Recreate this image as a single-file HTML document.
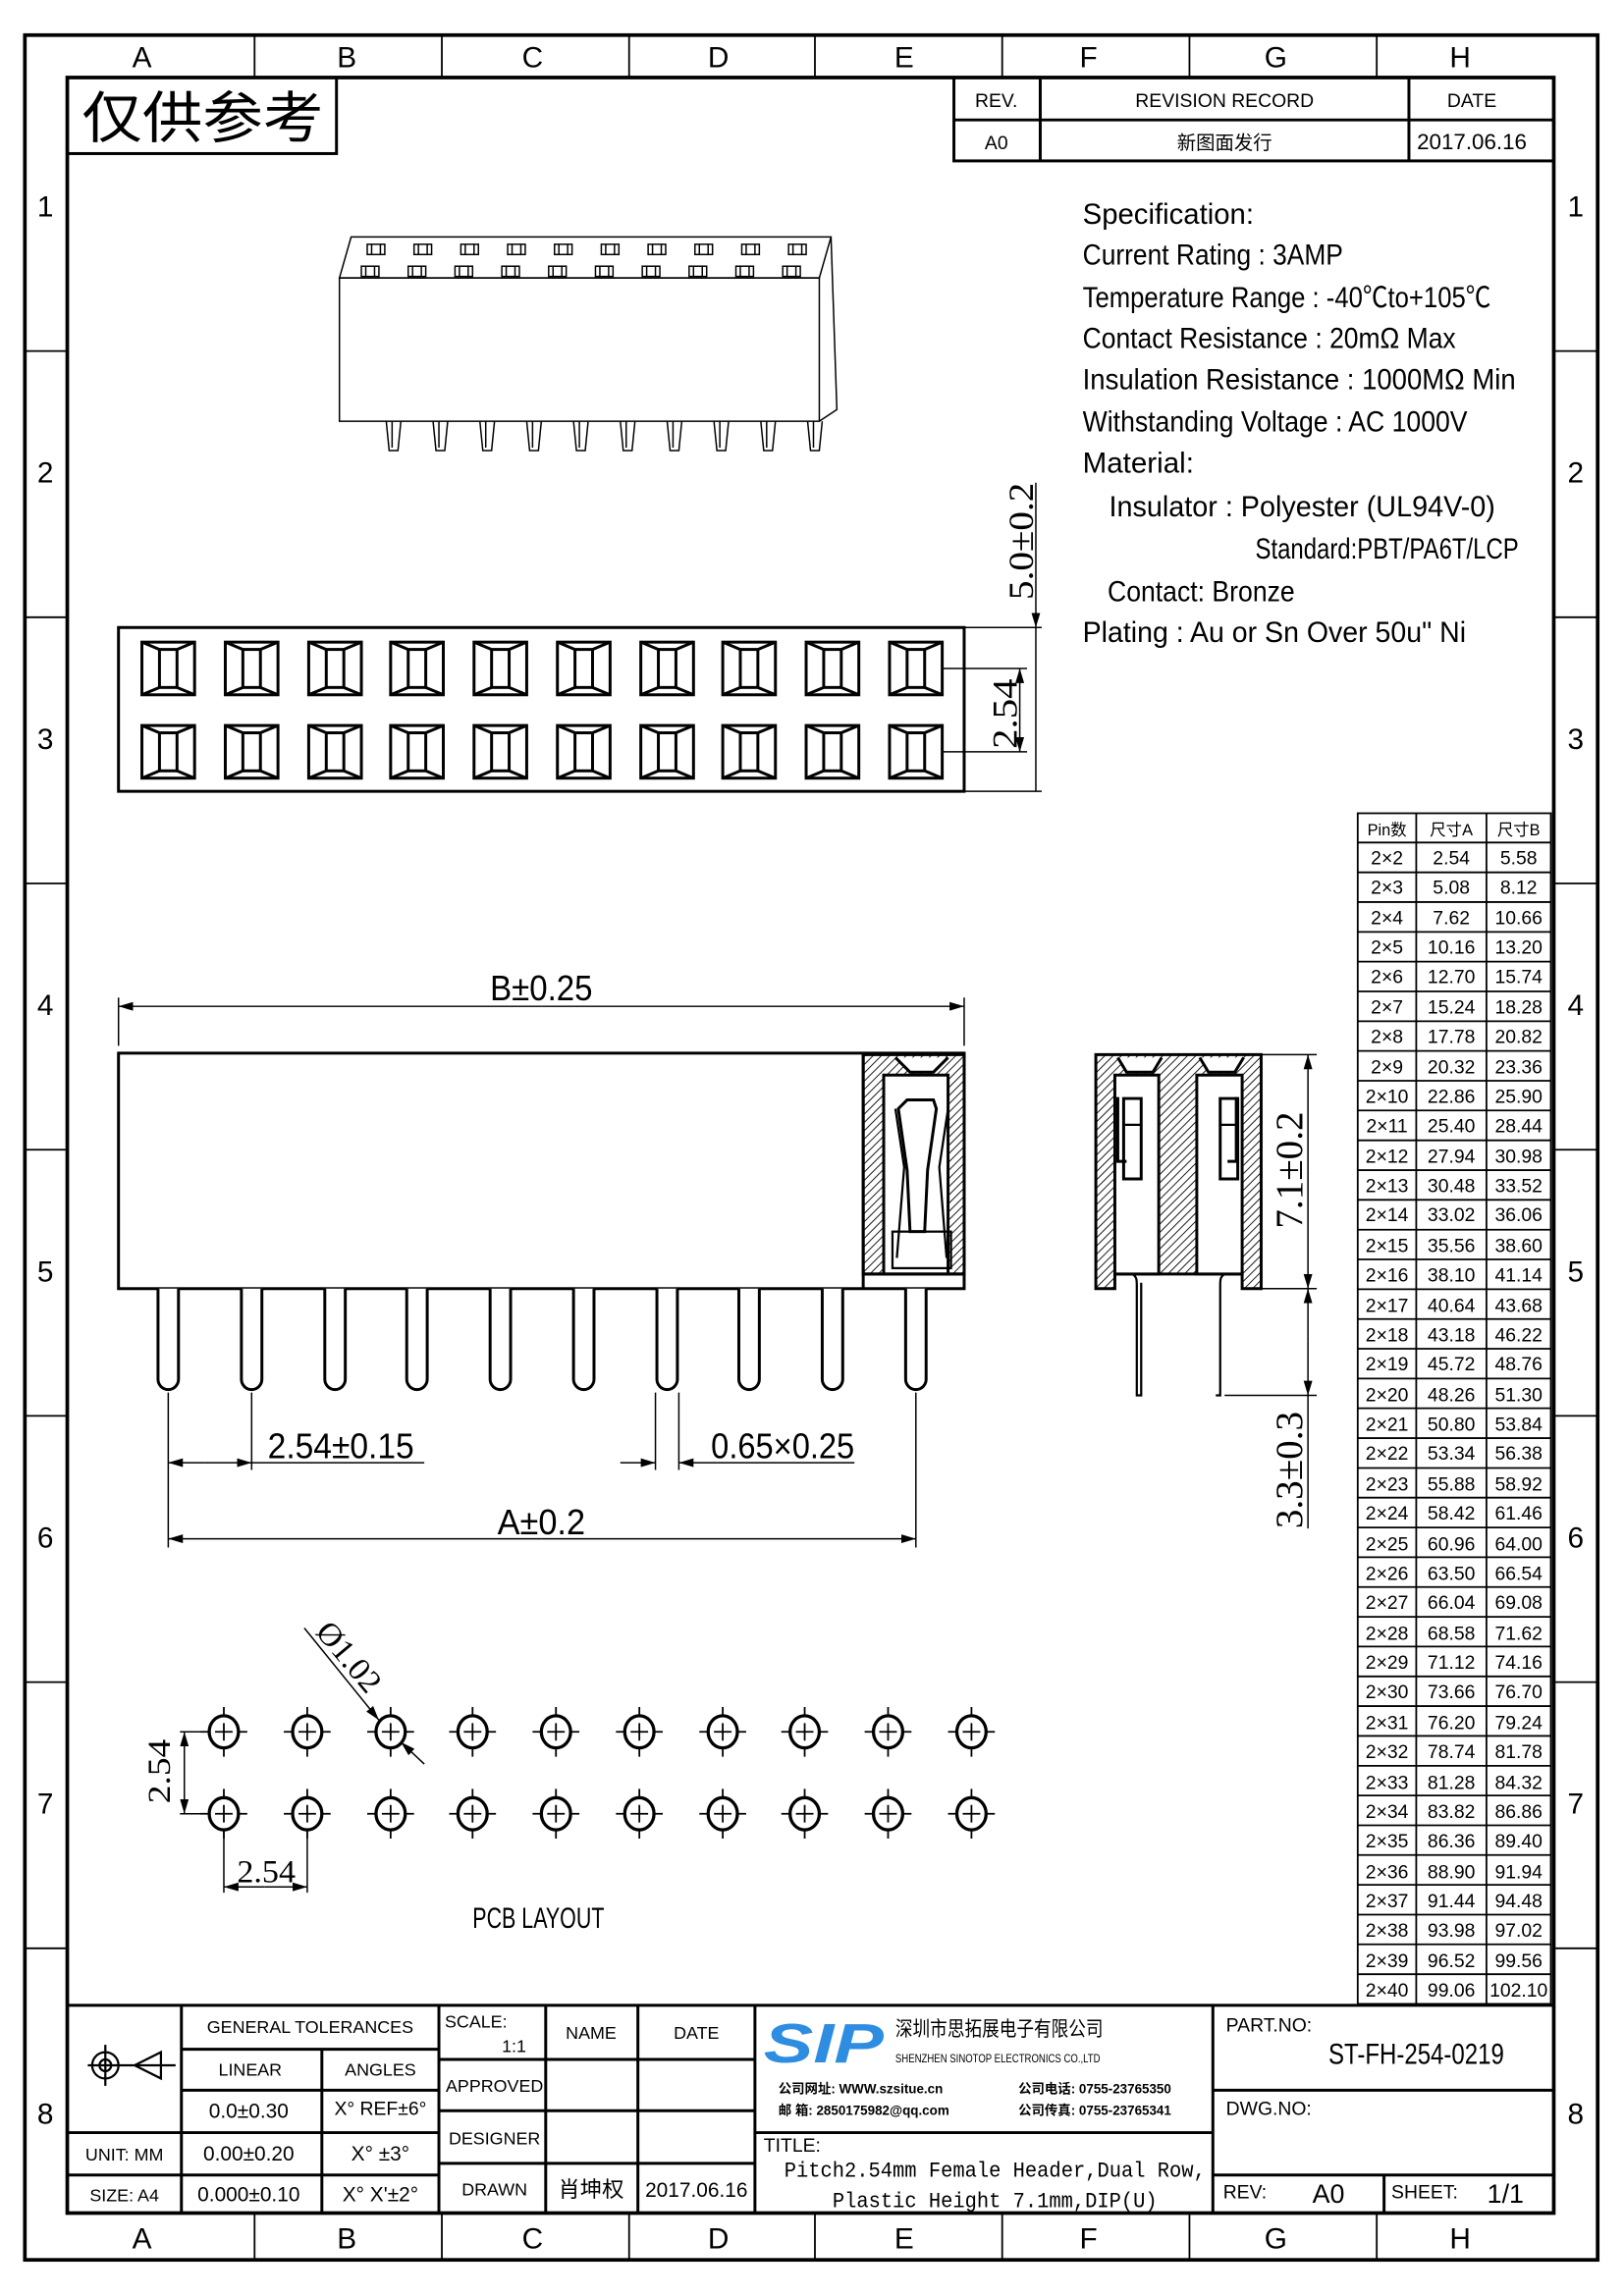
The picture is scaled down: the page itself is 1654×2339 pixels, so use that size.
<!DOCTYPE html>
<html><head><meta charset="utf-8"><style>
html,body{margin:0;padding:0;background:#fff}
svg{display:block}
text{font-family:"Liberation Sans Narrow","Liberation Sans","Noto Sans CJK SC",sans-serif;fill:#000}
.s{font-family:"Liberation Serif","Noto Serif CJK SC",serif}
</style></head><body>
<svg width="1654" height="2339" viewBox="0 0 1110 1569.7" xmlns="http://www.w3.org/2000/svg">
<defs>
<g id="sq" fill="none" stroke="#000" stroke-width="2"><rect x="-18" y="-18" width="36" height="36"/><rect x="-6" y="-13" width="12" height="26"/><path d="M-18 -18L-6 -13M18 -18L6 -13M-18 18L-6 13M18 18L6 13"/></g>
<g id="hole" fill="none" stroke="#000"><ellipse rx="10" ry="11" stroke-width="2.2"/><path d="M-6 0H6M0 -6V6M-16 0H-10M10 0H16M0 -17V-11M0 11V17" stroke-width="1.2"/></g>
<g id="pin"><path d="M-7 0V62A7 7 0 0 0 7 62V0" fill="#fff" stroke="#000" stroke-width="2"/></g>
<g id="hpin" fill="none" stroke="#000" stroke-width="1"><rect x="-6" y="-3" width="12" height="7"/><path d="M-3 -3V4M3 -3V4"/></g>
<pattern id="hat" patternUnits="userSpaceOnUse" width="4" height="4" patternTransform="rotate(45)"><rect width="4" height="4" fill="#fff"/><line x1="0" y1="0" x2="0" y2="4" stroke="#000" stroke-width="1.2"/></pattern>
<marker id="ar" markerWidth="10" markerHeight="6" refX="10" refY="3" orient="auto" markerUnits="userSpaceOnUse"><path d="M0 0L10 3L0 6z" fill="#000"/></marker>
</defs>
<rect width="1110" height="1570" fill="#fff"/>
<!-- frames -->
<rect x="17" y="24" width="1075" height="1521" fill="none" stroke="#000" stroke-width="2.5"/>
<rect x="46" y="53" width="1016" height="1460" fill="none" stroke="#000" stroke-width="2.5"/>
<g stroke="#000" stroke-width="1.2">
<path d="M174 24V53M302 24V53M430 24V53M557 24V53M685 24V53M813 24V53M941 24V53"/>
<path d="M174 1513V1545M302 1513V1545M430 1513V1545M557 1513V1545M685 1513V1545M813 1513V1545M941 1513V1545"/>
<path d="M17 240H46M17 422H46M17 604H46M17 786H46M17 968H46M17 1150H46M17 1332H46"/>
<path d="M1062 240H1092M1062 422H1092M1062 604H1092M1062 786H1092M1062 968H1092M1062 1150H1092M1062 1332H1092"/>
</g>
<g font-size="20" text-anchor="middle">
<text x="97" y="46">A</text><text x="237" y="46">B</text><text x="364" y="46">C</text><text x="491" y="46">D</text><text x="618" y="46">E</text><text x="744" y="46">F</text><text x="872" y="46">G</text><text x="998" y="46">H</text>
<text x="97" y="1537">A</text><text x="237" y="1537">B</text><text x="364" y="1537">C</text><text x="491" y="1537">D</text><text x="618" y="1537">E</text><text x="744" y="1537">F</text><text x="872" y="1537">G</text><text x="998" y="1537">H</text>
<text x="31" y="148">1</text><text x="31" y="330">2</text><text x="31" y="512">3</text><text x="31" y="694">4</text><text x="31" y="876">5</text><text x="31" y="1058">6</text><text x="31" y="1240">7</text><text x="31" y="1452">8</text>
<text x="1077" y="148">1</text><text x="1077" y="330">2</text><text x="1077" y="512">3</text><text x="1077" y="694">4</text><text x="1077" y="876">5</text><text x="1077" y="1058">6</text><text x="1077" y="1240">7</text><text x="1077" y="1452">8</text>
</g>
<!-- reference stamp -->
<rect x="46" y="53" width="184" height="52" fill="none" stroke="#000" stroke-width="2"/>
<text x="56" y="94" font-size="38" textLength="165" lengthAdjust="spacingAndGlyphs">仅供参考</text>
<!-- revision -->
<g fill="none" stroke="#000" stroke-width="2"><rect x="652" y="53" width="410" height="57"/><path d="M652 82H1062M711 53V110M963 53V110"/></g>
<g font-size="13" text-anchor="middle"><text x="681" y="73">REV.</text><text x="837" y="73">REVISION RECORD</text><text x="1006" y="73">DATE</text>
<text x="681" y="102">A0</text><text x="837" y="102">新图面发行</text><text x="1006" y="102" font-size="15">2017.06.16</text></g>
<!-- spec -->
<g font-size="20">
<text x="740" y="153" textLength="117" lengthAdjust="spacingAndGlyphs">Specification:</text>
<text x="740" y="181" textLength="178" lengthAdjust="spacingAndGlyphs">Current Rating : 3AMP</text>
<text x="740" y="210" textLength="279" lengthAdjust="spacingAndGlyphs">Temperature Range : -40℃to+105℃</text>
<text x="740" y="238" textLength="255" lengthAdjust="spacingAndGlyphs">Contact Resistance : 20mΩ Max</text>
<text x="740" y="266" textLength="296" lengthAdjust="spacingAndGlyphs">Insulation Resistance : 1000MΩ Min</text>
<text x="740" y="295" textLength="263" lengthAdjust="spacingAndGlyphs">Withstanding Voltage : AC 1000V</text>
<text x="740" y="323" textLength="76" lengthAdjust="spacingAndGlyphs">Material:</text>
<text x="758" y="353" textLength="264" lengthAdjust="spacingAndGlyphs">Insulator : Polyester (UL94V-0)</text>
<text x="858" y="382" textLength="180" lengthAdjust="spacingAndGlyphs">Standard:PBT/PA6T/LCP</text>
<text x="757" y="411" textLength="128" lengthAdjust="spacingAndGlyphs">Contact: Bronze</text>
<text x="740" y="439" textLength="262" lengthAdjust="spacingAndGlyphs">Plating : Au or Sn Over 50u" Ni</text>
</g>
<!-- 3D view -->
<g fill="none" stroke="#000" stroke-width="1">
<path d="M240 162H568L560 190H232Z"/><rect x="232" y="190" width="328" height="98"/><path d="M568 162L572 280L560 288"/>
<path d="M268 288v18M300 288v18M332 288v18M364 288v18M396 288v18M428 288v18M460 288v18M492 288v18M524 288v18M556 288v18"/>
<path d="M264 288l2 20h6l2-20M296 288l2 20h6l2-20M328 288l2 20h6l2-20M360 288l2 20h6l2-20M392 288l2 20h6l2-20M424 288l2 20h6l2-20M456 288l2 20h6l2-20M488 288l2 20h6l2-20M520 288l2 20h6l2-20M552 288l2 20h6l2-20"/>
</g>
<use href="#hpin" x="257" y="170"/><use href="#hpin" x="289" y="170"/><use href="#hpin" x="321" y="170"/><use href="#hpin" x="353" y="170"/><use href="#hpin" x="385" y="170"/><use href="#hpin" x="417" y="170"/><use href="#hpin" x="449" y="170"/><use href="#hpin" x="481" y="170"/><use href="#hpin" x="513" y="170"/><use href="#hpin" x="545" y="170"/>
<use href="#hpin" x="253" y="185"/><use href="#hpin" x="285" y="185"/><use href="#hpin" x="317" y="185"/><use href="#hpin" x="349" y="185"/><use href="#hpin" x="381" y="185"/><use href="#hpin" x="413" y="185"/><use href="#hpin" x="445" y="185"/><use href="#hpin" x="477" y="185"/><use href="#hpin" x="509" y="185"/><use href="#hpin" x="541" y="185"/>
<!-- top view -->
<rect x="81" y="429" width="578" height="112" fill="none" stroke="#000" stroke-width="2"/>
<g>
<use href="#sq" x="115" y="457"/><use href="#sq" x="172" y="457"/><use href="#sq" x="229" y="457"/><use href="#sq" x="285" y="457"/><use href="#sq" x="342" y="457"/><use href="#sq" x="399" y="457"/><use href="#sq" x="456" y="457"/><use href="#sq" x="512" y="457"/><use href="#sq" x="569" y="457"/><use href="#sq" x="626" y="457"/>
<use href="#sq" x="115" y="514"/><use href="#sq" x="172" y="514"/><use href="#sq" x="229" y="514"/><use href="#sq" x="285" y="514"/><use href="#sq" x="342" y="514"/><use href="#sq" x="399" y="514"/><use href="#sq" x="456" y="514"/><use href="#sq" x="512" y="514"/><use href="#sq" x="569" y="514"/><use href="#sq" x="626" y="514"/>
</g>
<g stroke="#000" stroke-width="1" fill="none">
<path d="M659 429H712M659 541H712M644 457H702M644 514H702"/>
<path d="M708 330V429" marker-end="url(#ar)"/><path d="M708 541V429"/>
<path d="M697 487V457" marker-end="url(#ar)"/><path d="M697 487V514" marker-end="url(#ar)"/>
</g>
<text class="s" font-size="24" transform="translate(706 410) rotate(-90)" textLength="80" lengthAdjust="spacingAndGlyphs">5.0±0.2</text>
<text class="s" font-size="24" transform="translate(695 512) rotate(-90)" textLength="48" lengthAdjust="spacingAndGlyphs">2.54</text>
<!-- front view -->
<g stroke="#000" fill="none">
<rect x="81" y="720" width="578" height="161" stroke-width="2"/>
<path d="M590 721H659V871H590Z" fill="url(#hat)" stroke-width="2"/>
<rect x="604" y="735" width="44" height="136" fill="#fff" stroke-width="2"/>
<path d="M590 721V881M590 871H659" stroke-width="2"/>
<path d="M612 723l10 10h16l10-10" stroke-width="2" fill="#fff"/>
<path d="M620 752h18l2 6-6 42 -2 42h-10l-2-42-6-42z" stroke-width="2"/>
<path d="M612 758l6 40-5 62M648 758l-6 40 5 62" stroke-width="1.5"/>
<rect x="610" y="842" width="40" height="25" stroke-width="1.5"/>
</g>
<use href="#pin" x="115" y="881"/><use href="#pin" x="172" y="881"/><use href="#pin" x="229" y="881"/><use href="#pin" x="285" y="881"/><use href="#pin" x="342" y="881"/><use href="#pin" x="399" y="881"/><use href="#pin" x="456" y="881"/><use href="#pin" x="512" y="881"/><use href="#pin" x="569" y="881"/><use href="#pin" x="626" y="881"/>
<g stroke="#000" stroke-width="1" fill="none">
<path d="M81 715V682M659 715V682"/>
<path d="M370 688H81" marker-end="url(#ar)"/><path d="M370 688H659" marker-end="url(#ar)"/>
<path d="M115 952V1058M172 952V1005M448 952V1005M464 952V1005M626 952V1058"/>
<path d="M140 1000H115" marker-end="url(#ar)"/><path d="M140 1000H172" marker-end="url(#ar)"/><path d="M172 1000H290"/>
<path d="M424 1000H448" marker-end="url(#ar)"/><path d="M490 1000H464" marker-end="url(#ar)"/><path d="M490 1000H584"/>
<path d="M370 1052H115" marker-end="url(#ar)"/><path d="M370 1052H626" marker-end="url(#ar)"/>
</g>
<g class="s" font-size="24" text-anchor="middle">
<text x="370" y="684" textLength="70" lengthAdjust="spacingAndGlyphs">B±0.25</text>
<text x="233" y="997" textLength="100" lengthAdjust="spacingAndGlyphs">2.54±0.15</text>
<text x="535" y="997" textLength="98" lengthAdjust="spacingAndGlyphs">0.65×0.25</text>
<text x="370" y="1049" textLength="60" lengthAdjust="spacingAndGlyphs">A±0.2</text>
</g>
<!-- side view -->
<g stroke="#000" fill="none" stroke-width="2">
<path d="M749 721H862V881H849V871H762V881H749Z" fill="url(#hat)"/>
<rect x="762" y="735" width="30" height="136" fill="#fff"/>
<rect x="818" y="735" width="31" height="136" fill="#fff"/>
<path d="M764 723l6 10h18l6-10M820 723l6 10h18l6-10" fill="#fff"/>
<path d="M768 751h12v55h-12zM834 751h12v55h-12z"/>
<path d="M769 769h11M834 769h12" stroke-width="1.5"/>
<path d="M764 750v44h6M845 750v44h-6"/>
<path d="M774 871c3 2 3 4 3 8V954h3V877M837 871c-3 2-3 4-3 8V954h-3" stroke-width="1.5"/>
</g>
<g stroke="#000" stroke-width="1" fill="none">
<path d="M862 721H900M862 881H900M837 954H900"/>
<path d="M894 800V721" marker-end="url(#ar)"/><path d="M894 800V881" marker-end="url(#ar)"/>
<path d="M894 917V881" marker-end="url(#ar)"/><path d="M894 917V954" marker-end="url(#ar)"/><path d="M894 954V1045"/>
</g>
<text class="s" font-size="26" transform="translate(890 840) rotate(-90)" textLength="80" lengthAdjust="spacingAndGlyphs">7.1±0.2</text>
<text class="s" font-size="26" transform="translate(890 1045) rotate(-90)" textLength="80" lengthAdjust="spacingAndGlyphs">3.3±0.3</text>
<!-- PCB -->
<g>
<use href="#hole" x="153" y="1184"/><use href="#hole" x="210" y="1184"/><use href="#hole" x="267" y="1184"/><use href="#hole" x="323" y="1184"/><use href="#hole" x="380" y="1184"/><use href="#hole" x="437" y="1184"/><use href="#hole" x="494" y="1184"/><use href="#hole" x="550" y="1184"/><use href="#hole" x="607" y="1184"/><use href="#hole" x="664" y="1184"/>
<use href="#hole" x="153" y="1240"/><use href="#hole" x="210" y="1240"/><use href="#hole" x="267" y="1240"/><use href="#hole" x="323" y="1240"/><use href="#hole" x="380" y="1240"/><use href="#hole" x="437" y="1240"/><use href="#hole" x="494" y="1240"/><use href="#hole" x="550" y="1240"/><use href="#hole" x="607" y="1240"/><use href="#hole" x="664" y="1240"/>
</g>
<g stroke="#000" stroke-width="1" fill="none">
<path d="M208 1113L259 1176" marker-end="url(#ar)"/><path d="M290 1206L274 1191" marker-end="url(#ar)"/>
<path d="M143 1184H123M143 1240H123"/>
<path d="M126 1212V1184" marker-end="url(#ar)"/><path d="M126 1212V1240" marker-end="url(#ar)"/>
<path d="M153 1252V1294M210 1252V1294"/>
<path d="M181 1290H153" marker-end="url(#ar)"/><path d="M181 1290H210" marker-end="url(#ar)"/>
</g>
<text class="s" font-size="22" transform="translate(215 1116) rotate(50)" textLength="56" lengthAdjust="spacingAndGlyphs">Ø1.02</text>
<text class="s" font-size="22" transform="translate(116 1233) rotate(-90)" textLength="44" lengthAdjust="spacingAndGlyphs">2.54</text>
<text class="s" font-size="22" x="162" y="1287" textLength="40" lengthAdjust="spacingAndGlyphs">2.54</text>
<text font-size="20" x="323" y="1318" textLength="90" lengthAdjust="spacingAndGlyphs">PCB LAYOUT</text>
<!-- pin table -->
<g fill="none" stroke="#000" stroke-width="1.2">
<rect x="928" y="556" width="132" height="814"/>
<path d="M968 556V1370M1016 556V1370M928 576H1060"/>
<path d="M928 596.4H1060M928 616.7H1060M928 637.1H1060M928 657.4H1060M928 677.8H1060M928 698.2H1060M928 718.5H1060M928 738.9H1060M928 759.2H1060M928 779.6H1060M928 800H1060M928 820.3H1060M928 840.7H1060M928 861H1060M928 881.4H1060M928 901.8H1060M928 922.1H1060M928 942.5H1060M928 962.8H1060M928 983.2H1060M928 1003.6H1060M928 1023.9H1060M928 1044.3H1060M928 1064.6H1060M928 1085H1060M928 1105.4H1060M928 1125.7H1060M928 1146.1H1060M928 1166.4H1060M928 1186.8H1060M928 1207.2H1060M928 1227.5H1060M928 1247.9H1060M928 1268.2H1060M928 1288.6H1060M928 1309H1060M928 1329.3H1060M928 1349.7H1060"/>
</g>
<g font-size="13" text-anchor="middle">
<text x="948" y="571" font-size="11">Pin数</text><text x="992" y="571" font-size="11">尺寸A</text><text x="1038" y="571" font-size="11">尺寸B</text>
<text x="948" y="591">2×2</text><text x="992" y="591">2.54</text><text x="1038" y="591">5.58</text>
<text x="948" y="611">2×3</text><text x="992" y="611">5.08</text><text x="1038" y="611">8.12</text>
<text x="948" y="632">2×4</text><text x="992" y="632">7.62</text><text x="1038" y="632">10.66</text>
<text x="948" y="652">2×5</text><text x="992" y="652">10.16</text><text x="1038" y="652">13.20</text>
<text x="948" y="672">2×6</text><text x="992" y="672">12.70</text><text x="1038" y="672">15.74</text>
<text x="948" y="693">2×7</text><text x="992" y="693">15.24</text><text x="1038" y="693">18.28</text>
<text x="948" y="713">2×8</text><text x="992" y="713">17.78</text><text x="1038" y="713">20.82</text>
<text x="948" y="734">2×9</text><text x="992" y="734">20.32</text><text x="1038" y="734">23.36</text>
<text x="948" y="754">2×10</text><text x="992" y="754">22.86</text><text x="1038" y="754">25.90</text>
<text x="948" y="774">2×11</text><text x="992" y="774">25.40</text><text x="1038" y="774">28.44</text>
<text x="948" y="795">2×12</text><text x="992" y="795">27.94</text><text x="1038" y="795">30.98</text>
<text x="948" y="815">2×13</text><text x="992" y="815">30.48</text><text x="1038" y="815">33.52</text>
<text x="948" y="835">2×14</text><text x="992" y="835">33.02</text><text x="1038" y="835">36.06</text>
<text x="948" y="856">2×15</text><text x="992" y="856">35.56</text><text x="1038" y="856">38.60</text>
<text x="948" y="876">2×16</text><text x="992" y="876">38.10</text><text x="1038" y="876">41.14</text>
<text x="948" y="897">2×17</text><text x="992" y="897">40.64</text><text x="1038" y="897">43.68</text>
<text x="948" y="917">2×18</text><text x="992" y="917">43.18</text><text x="1038" y="917">46.22</text>
<text x="948" y="937">2×19</text><text x="992" y="937">45.72</text><text x="1038" y="937">48.76</text>
<text x="948" y="958">2×20</text><text x="992" y="958">48.26</text><text x="1038" y="958">51.30</text>
<text x="948" y="978">2×21</text><text x="992" y="978">50.80</text><text x="1038" y="978">53.84</text>
<text x="948" y="998">2×22</text><text x="992" y="998">53.34</text><text x="1038" y="998">56.38</text>
<text x="948" y="1019">2×23</text><text x="992" y="1019">55.88</text><text x="1038" y="1019">58.92</text>
<text x="948" y="1039">2×24</text><text x="992" y="1039">58.42</text><text x="1038" y="1039">61.46</text>
<text x="948" y="1060">2×25</text><text x="992" y="1060">60.96</text><text x="1038" y="1060">64.00</text>
<text x="948" y="1080">2×26</text><text x="992" y="1080">63.50</text><text x="1038" y="1080">66.54</text>
<text x="948" y="1100">2×27</text><text x="992" y="1100">66.04</text><text x="1038" y="1100">69.08</text>
<text x="948" y="1121">2×28</text><text x="992" y="1121">68.58</text><text x="1038" y="1121">71.62</text>
<text x="948" y="1141">2×29</text><text x="992" y="1141">71.12</text><text x="1038" y="1141">74.16</text>
<text x="948" y="1161">2×30</text><text x="992" y="1161">73.66</text><text x="1038" y="1161">76.70</text>
<text x="948" y="1182">2×31</text><text x="992" y="1182">76.20</text><text x="1038" y="1182">79.24</text>
<text x="948" y="1202">2×32</text><text x="992" y="1202">78.74</text><text x="1038" y="1202">81.78</text>
<text x="948" y="1223">2×33</text><text x="992" y="1223">81.28</text><text x="1038" y="1223">84.32</text>
<text x="948" y="1243">2×34</text><text x="992" y="1243">83.82</text><text x="1038" y="1243">86.86</text>
<text x="948" y="1263">2×35</text><text x="992" y="1263">86.36</text><text x="1038" y="1263">89.40</text>
<text x="948" y="1284">2×36</text><text x="992" y="1284">88.90</text><text x="1038" y="1284">91.94</text>
<text x="948" y="1304">2×37</text><text x="992" y="1304">91.44</text><text x="1038" y="1304">94.48</text>
<text x="948" y="1324">2×38</text><text x="992" y="1324">93.98</text><text x="1038" y="1324">97.02</text>
<text x="948" y="1345">2×39</text><text x="992" y="1345">96.52</text><text x="1038" y="1345">99.56</text>
<text x="948" y="1365">2×40</text><text x="992" y="1365">99.06</text><text x="1038" y="1365">102.10</text>
</g>
<!-- title block -->
<g fill="none" stroke="#000" stroke-width="2">
<path d="M46 1371H1062"/>
<path d="M124 1371V1513M220 1401V1513M300 1371V1513M373 1371V1513M436 1371V1513M516 1371V1513M829 1371V1513M946 1487V1513"/>
<path d="M124 1401H300M124 1429H300M46 1458H300M46 1487H300"/>
<path d="M300 1408H516M300 1443H516M300 1479H516"/>
<path d="M516 1458H829M829 1429H1062M829 1487H1062"/>
</g>
<g fill="none" stroke="#000" stroke-width="1.5">
<circle cx="72" cy="1412" r="9"/><circle cx="72" cy="1412" r="4"/><path d="M60 1412H120M72 1398V1426M92 1412L110 1403V1421Z"/>
</g>
<g font-size="12" text-anchor="middle">
<text x="212" y="1390">GENERAL TOLERANCES</text>
<text x="171" y="1419">LINEAR</text><text x="260" y="1419">ANGLES</text>
<text x="170" y="1448" font-size="14">0.0±0.30</text><text x="260" y="1446" font-size="13">X° REF±6°</text>
<text x="85" y="1477">UNIT: MM</text><text x="170" y="1477" font-size="14">0.00±0.20</text><text x="260" y="1477" font-size="14">X° ±3°</text>
<text x="85" y="1505">SIZE: A4</text><text x="170" y="1505" font-size="14">0.000±0.10</text><text x="260" y="1505" font-size="14">X° X'±2°</text>
<text x="404" y="1394">NAME</text><text x="476" y="1394">DATE</text>
<text x="338" y="1430">APPROVED</text><text x="338" y="1466">DESIGNER</text><text x="338" y="1501">DRAWN</text>
<text x="404" y="1502" font-size="15">肖坤权</text><text x="476" y="1502" font-size="14">2017.06.16</text>
</g>
<text x="304" y="1386" font-size="12">SCALE:</text><text x="343" y="1403" font-size="12">1:1</text>
<text x="522" y="1410" font-size="38" font-weight="bold" font-style="italic" fill="#2e8de0" style="fill:#2e8de0" textLength="82" lengthAdjust="spacingAndGlyphs">SIP</text>
<text x="612" y="1392" font-size="14" textLength="142" lengthAdjust="spacingAndGlyphs">深圳市思拓展电子有限公司</text>
<text x="612" y="1410" font-size="8" textLength="140" lengthAdjust="spacingAndGlyphs">SHENZHEN SINOTOP ELECTRONICS CO.,LTD</text>
<g font-size="9" font-weight="bold">
<text x="532" y="1431">公司网址: WWW.szsitue.cn</text><text x="696" y="1431">公司电话: 0755-23765350</text>
<text x="532" y="1446">邮    箱: 2850175982@qq.com</text><text x="696" y="1446">公司传真: 0755-23765341</text>
</g>
<text x="522" y="1471" font-size="13">TITLE:</text>
<text x="680" y="1488" font-size="15" text-anchor="middle" font-family="Liberation Mono" style="font-family:'Liberation Mono',monospace" textLength="288" lengthAdjust="spacingAndGlyphs">Pitch2.54mm Female Header,Dual Row,</text>
<text x="680" y="1509" font-size="15" text-anchor="middle" style="font-family:'Liberation Mono',monospace" textLength="222" lengthAdjust="spacingAndGlyphs">Plastic Height 7.1mm,DIP(U)</text>
<text x="838" y="1389" font-size="13">PART.NO:</text>
<text x="968" y="1411" font-size="20" text-anchor="middle" textLength="120" lengthAdjust="spacingAndGlyphs">ST-FH-254-0219</text>
<text x="838" y="1446" font-size="13">DWG.NO:</text>
<text x="836" y="1503" font-size="13">REV:</text><text x="908" y="1506" font-size="18" text-anchor="middle">A0</text>
<text x="951" y="1503" font-size="13">SHEET:</text><text x="1029" y="1506" font-size="18" text-anchor="middle">1/1</text>
</svg>
</body></html>
